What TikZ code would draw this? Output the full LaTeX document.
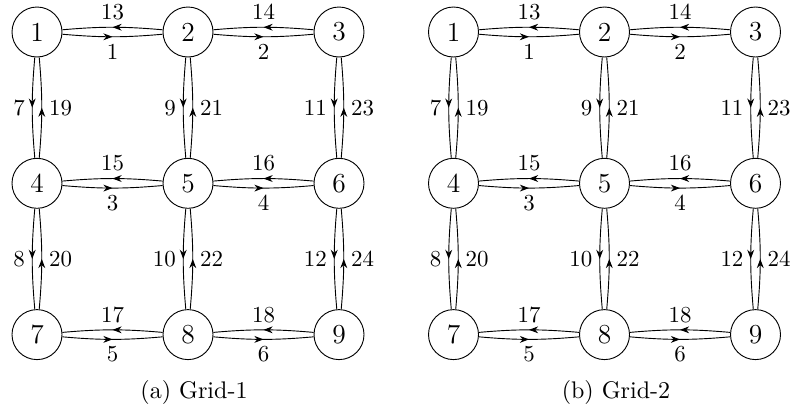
\documentclass[tikz,border=0pt]{standalone}
\usetikzlibrary{arrows.meta,decorations.markings}
\begin{document}
\begin{tikzpicture}[x=0.4367pt,y=-0.4367pt,
  vert/.style={circle,draw,line width=0.4pt,minimum size=50*0.4367pt,inner sep=0pt,font=\large},
  lnk/.style={draw,line width=0.4pt,postaction={decorate},
    decoration={markings,mark=at position 0.5 with {\arrow{Stealth[length=4pt,width=3pt,inset=1.3pt]}}}},
  lab/.style={font=\normalsize,inner sep=3pt}]
\useasboundingbox (0,0) rectangle (798,419);
\foreach \p/\ox in {a/37,b/453.5}{
  \foreach \r in {0,1,2}{
    \foreach \c in {0,1,2}{
      \pgfmathtruncatemacro{\n}{3*\r+\c+1}
      \node[vert] (\p\n) at ({\ox+151*\c},{32+151.3*\r}) {\n};
    }
  }
  \foreach \r in {0,1,2}{
    \foreach \c in {0,1}{
      \pgfmathtruncatemacro{\n}{3*\r+\c+1}
      \pgfmathtruncatemacro{\m}{\n+1}
      \pgfmathtruncatemacro{\fw}{2*\r+\c+1}
      \pgfmathtruncatemacro{\bw}{\fw+12}
      \draw[lnk] (\p\n) to[bend right=5] node[lab,below] {\fw} (\p\m);
      \draw[lnk] (\p\m) to[bend right=5] node[lab,above] {\bw} (\p\n);
    }
  }
  \foreach \c in {0,1,2}{
    \foreach \r in {0,1}{
      \pgfmathtruncatemacro{\n}{3*\r+\c+1}
      \pgfmathtruncatemacro{\m}{\n+3}
      \pgfmathtruncatemacro{\dn}{7+2*\c+\r}
      \pgfmathtruncatemacro{\up}{\dn+12}
      \draw[lnk] (\p\n) to[bend right=5] node[lab,left] {\dn} (\p\m);
      \draw[lnk] (\p\m) to[bend right=5] node[lab,right] {\up} (\p\n);
    }
  }
}
\node[font=\fontsize{10.5}{12}\selectfont] (capa) at (194,392) {(a) Grid-1};
\node[font=\fontsize{10.5}{12}\selectfont] (capb) at (616,392) {(b) Grid-2};
\end{tikzpicture}
\end{document}
